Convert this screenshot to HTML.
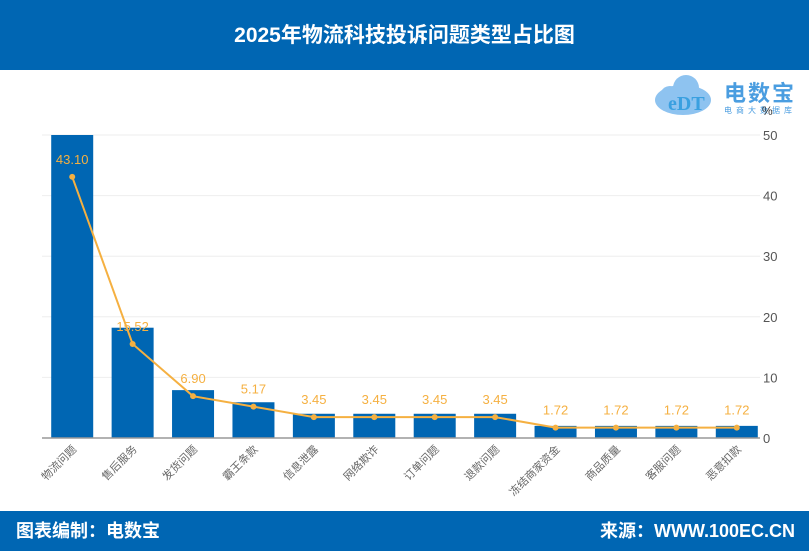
<!DOCTYPE html>
<html><head><meta charset="utf-8"><style>
body{margin:0;width:809px;height:551px;overflow:hidden;background:#fff;font-family:"Liberation Sans","Noto Sans CJK SC",sans-serif;}
.hdr{position:absolute;left:0;top:0;width:809px;height:70px;background:#0066b3;color:#fff;font-size:21px;font-weight:bold;text-align:center;line-height:72px;}
.ftr{position:absolute;left:0;top:511px;width:809px;height:40px;background:#0066b3;color:#fff;font-size:18px;font-weight:bold;line-height:40px;}
</style></head><body>
<div class="hdr">2025年物流科技投诉问题类型占比图</div>
<div style="position:absolute;left:648px;top:72px;width:160px;height:45px;">
<svg width="160" height="45"><ellipse cx="35" cy="28" rx="28" ry="15" fill="#8ec3f0"/><circle cx="38" cy="16" r="13" fill="#8ec3f0"/><circle cx="22" cy="24" r="10" fill="#8ec3f0"/>
<text x="20" y="38" font-size="20" font-weight="bold" fill="#3aa0e0" font-family="Liberation Serif,serif">eDT</text></svg>
<div style="position:absolute;left:76px;top:4px;font-size:22px;font-weight:bold;color:#4a9de0;letter-spacing:2px;white-space:nowrap;">电数宝</div>
<div style="position:absolute;left:76px;top:33px;font-size:8px;color:#4a9de0;letter-spacing:4px;white-space:nowrap;">电商大数据库</div>
</div>
<svg id="c" width="809" height="551" style="position:absolute;left:0;top:0"></svg>
<div class="ftr"><span style="position:absolute;left:16px">图表编制：电数宝</span><span style="position:absolute;right:14px">来源：WWW.100EC.CN</span></div>
<script>
const categories=["物流问题","售后服务","发货问题","霸王条款","信息泄露","网络欺诈","订单问题","退款问题","冻结商家资金","商品质量","客服问题","恶意扣款"];
const barValues=[52,18.2,7.9,5.9,4,4,4,4,2,2,2,2];
const lineValues=[43.10,15.52,6.90,5.17,3.45,3.45,3.45,3.45,1.72,1.72,1.72,1.72];
const yTicks=[0,10,20,30,40,50];
const svg=document.getElementById('c');const NS='http://www.w3.org/2000/svg';
const x0=42,x1=767,yB=438,yT=135,yMax=50;
const step=(x1-x0)/categories.length;
const X=i=>x0+step*(i+0.5);
const Y=v=>yB-(Math.min(v,yMax)/yMax)*(yB-yT);
function mk(t,a,p){const e=document.createElementNS(NS,t);for(const k in a)e.setAttribute(k,a[k]);(p||svg).appendChild(e);return e;}
yTicks.forEach(t=>{
 if(t>0){const g=mk('line',{x1:x0,x2:x1-7,y1:Y(t),y2:Y(t),stroke:'#eeeeee'});
 
 }
 const l=mk('text',{x:763,y:Y(t)+5,'font-size':13,fill:'#555'});l.textContent=t;
 
 
});
const u=mk('text',{x:762,y:115,'font-size':12,fill:'#333'});u.textContent='%';


barValues.forEach((v,i)=>{
 const r=mk('rect',{x:X(i)-21,y:Y(v),width:42,height:yB-Y(v),fill:'#0066b3'});
 
 
 const t=mk('text',{x:X(i)+5,y:yB+12,'font-size':11,fill:'#666','text-anchor':'end',transform:`rotate(-45 ${X(i)+5} ${yB+12})`});
 t.textContent=categories[i];
 
 
});
const ax=mk('line',{x1:x0,x2:x1-7,y1:yB,y2:yB,stroke:'#999','stroke-width':1.5});


const pl=mk('polyline',{points:lineValues.map((v,i)=>X(i)+','+Y(v)).join(' '),fill:'none',stroke:'#f5b041','stroke-width':2});


lineValues.forEach((v,i)=>{
 const c=mk('circle',{cx:X(i),cy:Y(v),r:3,fill:'#f5b041'});
 
 
 const t=mk('text',{x:X(i),y:Y(v)-13,'font-size':13,fill:'#f5b041','text-anchor':'middle'});
 t.textContent=v.toFixed(2);
 
 
});
</script>
</body></html>
